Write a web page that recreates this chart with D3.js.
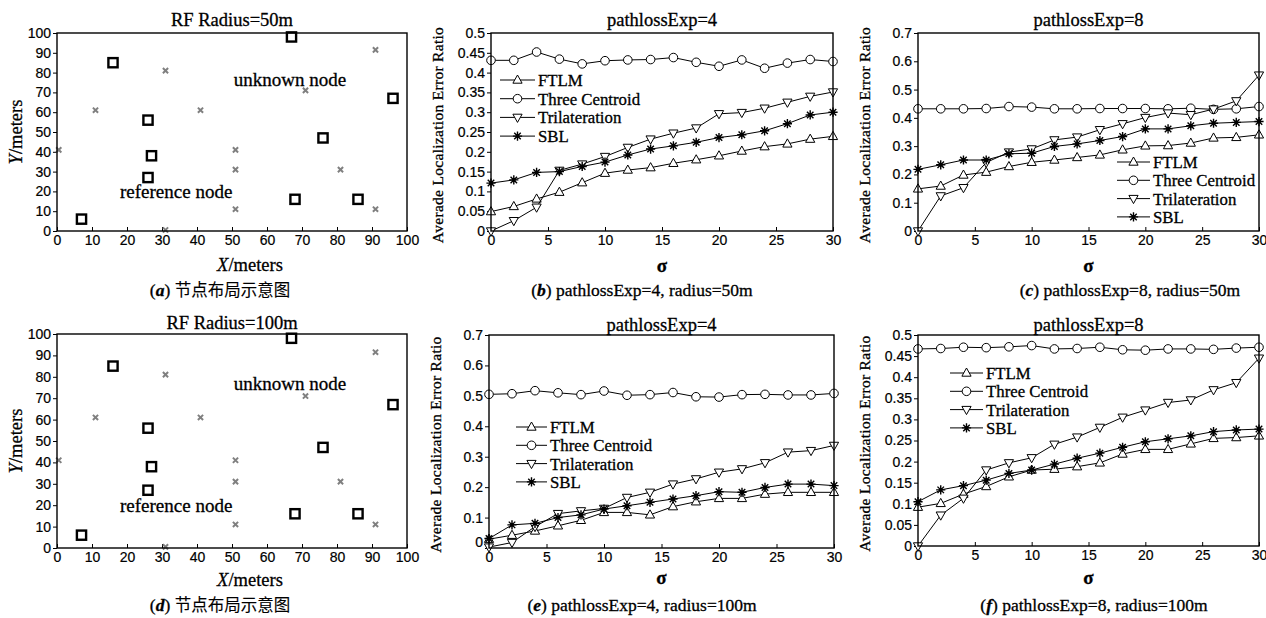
<!DOCTYPE html>
<html>
<head>
<meta charset="utf-8">
<script src="https://cdn.jsdelivr.net/npm/d3@7"></script>
<style>
  body { margin: 0; background: #fff; }
  svg text { fill: #000; stroke: #000; stroke-width: 0.3px; }
  .tick text { font-family: 'Liberation Sans', Arial, sans-serif; font-size: 14px; stroke-width: 0.2px; }
</style>
</head>
<body>
<svg id="chart" width="1266" height="618"></svg>
<script>
// ---- data ----
const sigma = [0, 2, 4, 6, 8, 10, 12, 14, 16, 18, 20, 22, 24, 26, 28, 30];
const seriesNames = ['FTLM', 'Three Centroid', 'Trilateration', 'SBL'];

// node layout (panels a and d)
const refX = [7, 16, 26, 27, 26, 67, 68, 76, 86, 96];
const refY = [6, 85, 56, 38, 27, 98, 16, 47, 16, 67];
const unkX = [0.5, 11, 31, 31, 41, 51, 51, 51, 71, 81, 91, 91];
const unkY = [41, 61, 81, 0.5, 61, 41, 31, 11, 71, 31, 91.5, 11];
const meterTicks = [0, 10, 20, 30, 40, 50, 60, 70, 80, 90, 100];

// (b) pathlossExp=4, radius=50m
const bFTLM = [0.049, 0.062, 0.081, 0.098, 0.122, 0.146, 0.154, 0.160, 0.171, 0.180, 0.190, 0.202, 0.213, 0.220, 0.232, 0.239];
const bTC   = [0.431, 0.431, 0.452, 0.434, 0.422, 0.430, 0.432, 0.433, 0.438, 0.426, 0.416, 0.432, 0.411, 0.424, 0.433, 0.428];
const bTri  = [0, 0.026, 0.060, 0.153, 0.169, 0.188, 0.211, 0.232, 0.247, 0.260, 0.296, 0.299, 0.310, 0.325, 0.340, 0.351];
const bSBL  = [0.121, 0.129, 0.148, 0.150, 0.163, 0.174, 0.192, 0.207, 0.215, 0.224, 0.236, 0.243, 0.253, 0.271, 0.293, 0.300];

// (c) pathlossExp=8, radius=50m
const cFTLM = [0.149, 0.159, 0.198, 0.208, 0.228, 0.243, 0.251, 0.260, 0.269, 0.287, 0.301, 0.302, 0.311, 0.329, 0.331, 0.340];
const cTC   = [0.432, 0.432, 0.432, 0.433, 0.440, 0.438, 0.432, 0.432, 0.433, 0.433, 0.433, 0.432, 0.434, 0.430, 0.432, 0.440];
const cTri  = [0, 0.124, 0.153, 0.242, 0.279, 0.290, 0.322, 0.332, 0.358, 0.379, 0.401, 0.417, 0.411, 0.431, 0.460, 0.551];
const cSBL  = [0.218, 0.234, 0.251, 0.251, 0.273, 0.275, 0.299, 0.308, 0.320, 0.334, 0.361, 0.361, 0.372, 0.381, 0.384, 0.387];

// (e) pathlossExp=4, radius=100m
const eFTLM = [0.029, 0.042, 0.056, 0.073, 0.091, 0.117, 0.117, 0.109, 0.136, 0.152, 0.163, 0.163, 0.177, 0.183, 0.183, 0.183];
const eTC   = [0.505, 0.507, 0.517, 0.510, 0.504, 0.516, 0.502, 0.504, 0.511, 0.497, 0.496, 0.504, 0.505, 0.503, 0.503, 0.508];
const eTri  = [0.003, 0.018, 0.070, 0.113, 0.122, 0.130, 0.166, 0.183, 0.210, 0.227, 0.249, 0.260, 0.280, 0.315, 0.320, 0.337];
const eSBL  = [0.031, 0.076, 0.081, 0.100, 0.109, 0.128, 0.139, 0.150, 0.161, 0.172, 0.185, 0.183, 0.199, 0.210, 0.210, 0.205];

// (f) pathlossExp=8, radius=100m
const fFTLM = [0.092, 0.101, 0.123, 0.141, 0.164, 0.180, 0.182, 0.188, 0.197, 0.218, 0.229, 0.229, 0.242, 0.255, 0.257, 0.261];
const fTC   = [0.467, 0.468, 0.471, 0.470, 0.472, 0.475, 0.467, 0.468, 0.471, 0.465, 0.464, 0.467, 0.467, 0.466, 0.469, 0.471];
const fTri  = [0, 0.073, 0.113, 0.180, 0.197, 0.209, 0.241, 0.258, 0.281, 0.305, 0.322, 0.340, 0.346, 0.370, 0.387, 0.445];
const fSBL  = [0.105, 0.133, 0.143, 0.156, 0.172, 0.180, 0.194, 0.208, 0.220, 0.234, 0.247, 0.254, 0.261, 0.271, 0.275, 0.277];

const sigmaTicks = [0, 5, 10, 15, 20, 25, 30];
const ticks05 = [0, 0.05, 0.1, 0.15, 0.2, 0.25, 0.3, 0.35, 0.4, 0.45, 0.5];
const ticks07 = [0, 0.1, 0.2, 0.3, 0.4, 0.5, 0.6, 0.7];

const svg = d3.select('#chart');
const SERIF = "'Liberation Serif', 'Times New Roman', serif";
const MARKERS = ['up', 'circle', 'down', 'star'];

function marker(g, type, x, y) {
  if (type === 'circle') {
    g.append('circle').attr('cx', x).attr('cy', y).attr('r', 4.3)
      .attr('fill', '#fff').attr('stroke', '#000').attr('stroke-width', 1);
  } else if (type === 'up') {
    g.append('path').attr('d', `M${x},${y - 5}L${x + 4.6},${y + 3.2}L${x - 4.6},${y + 3.2}Z`)
      .attr('fill', '#fff').attr('stroke', '#000').attr('stroke-width', 1);
  } else if (type === 'down') {
    g.append('path').attr('d', `M${x},${y + 5}L${x + 4.6},${y - 3.2}L${x - 4.6},${y - 3.2}Z`)
      .attr('fill', '#fff').attr('stroke', '#000').attr('stroke-width', 1);
  } else {
    let d = '';
    for (let a = 0; a < 4; a++) {
      const t = a * Math.PI / 4, r = 4.6;
      d += `M${x - r * Math.cos(t)},${y - r * Math.sin(t)}L${x + r * Math.cos(t)},${y + r * Math.sin(t)}`;
    }
    g.append('path').attr('d', d).attr('stroke', '#000').attr('stroke-width', 1.4);
    g.append('circle').attr('cx', x).attr('cy', y).attr('r', 1.8).attr('fill', '#000');
  }
}

function frame(g, box) {
  g.append('rect').attr('x', box.x0).attr('y', box.y0)
    .attr('width', box.x1 - box.x0).attr('height', box.y1 - box.y0)
    .attr('fill', 'none').attr('stroke', '#000').attr('stroke-width', 1.4);
}

function styleAxis(sel) {
  sel.select('.domain').remove();
  sel.selectAll('.tick line').attr('stroke', '#000').attr('stroke-width', 1);
}

function caption(x, y, letter, rest, cjk) {
  const t = svg.append('text').attr('x', x).attr('y', y).attr('text-anchor', 'middle')
    .attr('font-family', SERIF).attr('font-size', 17.5);
  t.append('tspan').text('(');
  t.append('tspan').attr('font-style', 'italic').attr('font-weight', 'bold').text(letter);
  t.append('tspan').text(') ');
  t.append('tspan').attr('font-family', cjk ? "'Noto Sans CJK SC', sans-serif" : SERIF)
    .attr('font-size', cjk ? 16.5 : 17.5).attr('stroke-width', cjk ? 0.1 : 0.3).text(rest);
}

// ---- scatter panels (a, d) ----
function nodePanel(box, title, titleY, xLabY, yLabX) {
  const g = svg.append('g');
  const x = d3.scaleLinear().domain([0, 100]).range([box.x0, box.x1]);
  const y = d3.scaleLinear().domain([0, 100]).range([box.y1, box.y0]);

  g.append('g').attr('transform', `translate(0,${box.y1})`)
    .call(d3.axisBottom(x).tickValues(meterTicks).tickSizeInner(-4).tickSizeOuter(0).tickPadding(4))
    .call(styleAxis);
  g.append('g').attr('transform', `translate(${box.x0},0)`)
    .call(d3.axisLeft(y).tickValues(meterTicks).tickSizeInner(4).tickSizeOuter(0).tickPadding(2))
    .call(styleAxis);

  unkX.forEach((ux, i) => {
    const cx = x(ux), cy = y(unkY[i]), s = 2.6;
    g.append('path').attr('d', `M${cx - s},${cy - s}L${cx + s},${cy + s}M${cx - s},${cy + s}L${cx + s},${cy - s}`)
      .attr('stroke', '#808080').attr('stroke-width', 2);
  });
  refX.forEach((rx, i) => {
    g.append('rect').attr('x', x(rx) - 4.6).attr('y', y(refY[i]) - 4.6)
      .attr('width', 9.2).attr('height', 9.2)
      .attr('fill', 'none').attr('stroke', '#000').attr('stroke-width', 2.4);
  });
  frame(g, box);

  g.append('text').attr('x', x(50.5)).attr('y', y(76) + 5).attr('font-family', SERIF)
    .attr('font-size', 19).text('unknown node');
  g.append('text').attr('x', x(18)).attr('y', y(19) + 5).attr('font-family', SERIF)
    .attr('font-size', 19).text('reference node');

  g.append('text').attr('x', (box.x0 + box.x1) / 2).attr('y', titleY).attr('text-anchor', 'middle')
    .attr('font-family', SERIF).attr('font-size', 18.5).text(title);
  const xl = g.append('text').attr('x', (box.x0 + box.x1) / 2 + 18).attr('y', xLabY)
    .attr('text-anchor', 'middle').attr('font-family', SERIF).attr('font-size', 18.5);
  xl.append('tspan').attr('font-style', 'italic').text('X');
  xl.append('tspan').text('/meters');
  const cy = (box.y0 + box.y1) / 2;
  const yl = g.append('text').attr('transform', `translate(${yLabX},${cy}) rotate(-90)`)
    .attr('text-anchor', 'middle').attr('font-family', SERIF).attr('font-size', 18.5);
  yl.append('tspan').attr('font-style', 'italic').text('Y');
  yl.append('tspan').text('/meters');
}

// ---- error-ratio panels (b, c, e, f) ----
function linePanel(box, title, titleY, sigY, yMax, yTicks, series, leg, zeroShift) {
  const g = svg.append('g');
  const x = d3.scaleLinear().domain([0, 30]).range([box.x0, box.x1]);
  const y = d3.scaleLinear().domain([0, yMax]).range([box.y1, box.y0]);

  g.append('g').attr('transform', `translate(0,${box.y1})`)
    .call(d3.axisBottom(x).tickValues(sigmaTicks).tickSizeInner(-4).tickSizeOuter(0).tickPadding(4))
    .call(styleAxis);
  const ya = g.append('g').attr('transform', `translate(${box.x0},0)`)
    .call(d3.axisLeft(y).tickValues(yTicks).tickFormat(d => String(+d.toFixed(2)))
      .tickSizeInner(4).tickSizeOuter(0).tickPadding(2))
    .call(styleAxis);
  if (zeroShift) ya.selectAll('.tick').filter(d => d === 0).select('text').attr('y', -zeroShift);

  const line = d3.line().x((d, i) => x(sigma[i])).y(d => y(d));
  series.forEach((vals, si) => {
    const sg = g.append('g');
    sg.append('path').attr('d', line(vals)).attr('fill', 'none')
      .attr('stroke', '#000').attr('stroke-width', 1);
    vals.forEach((v, i) => marker(sg, MARKERS[si], x(sigma[i]), y(v)));
  });
  frame(g, box);

  seriesNames.forEach((name, i) => {
    const ly = leg.y + i * leg.dy;
    g.append('line').attr('x1', leg.x).attr('x2', leg.x + leg.w).attr('y1', ly).attr('y2', ly)
      .attr('stroke', '#000').attr('stroke-width', 1);
    marker(g, MARKERS[i], leg.x + leg.w / 2, ly);
    g.append('text').attr('x', leg.x + leg.w + 3).attr('y', ly + 6)
      .attr('font-family', SERIF).attr('font-size', 16.8).text(name);
  });

  g.append('text').attr('x', (box.x0 + box.x1) / 2).attr('y', titleY).attr('text-anchor', 'middle')
    .attr('font-family', SERIF).attr('font-size', 18.5).text(title);
  g.append('text').attr('x', (box.x0 + box.x1) / 2).attr('y', sigY).attr('text-anchor', 'middle')
    .attr('font-family', SERIF).attr('font-size', 19).attr('font-weight', 'bold').text('σ');
  g.append('text').attr('transform', `translate(${box.x0 - 48},${(box.y0 + box.y1) / 2 + 3}) rotate(-90)`)
    .attr('text-anchor', 'middle').attr('font-family', SERIF).attr('font-size', 15.5)
    .attr('letter-spacing', 0.3).text('Averade Localization Error Ratio');
}

nodePanel({ x0: 57, x1: 407, y0: 33, y1: 231 }, 'RF Radius=50m', 26, 271, 22);
nodePanel({ x0: 57, x1: 407, y0: 334, y1: 548 }, 'RF Radius=100m', 329, 586, 22);

linePanel({ x0: 491, x1: 833, y0: 33, y1: 231 }, 'pathlossExp=4', 26, 272, 0.5, ticks05,
  [bFTLM, bTC, bTri, bSBL], { x: 500, w: 35, y: 80, dy: 18.7 });
linePanel({ x0: 918, x1: 1259, y0: 33, y1: 231 }, 'pathlossExp=8', 26, 272, 0.7, ticks07,
  [cFTLM, cTC, cTri, cSBL], { x: 1117, w: 33, y: 162, dy: 18.3 });
linePanel({ x0: 489, x1: 834, y0: 335, y1: 548 }, 'pathlossExp=4', 331, 584, 0.7, ticks07,
  [eFTLM, eTC, eTri, eSBL], { x: 516, w: 31, y: 427, dy: 18.3 }, 6);
linePanel({ x0: 918, x1: 1259, y0: 335, y1: 546 }, 'pathlossExp=8', 331, 584, 0.5, ticks05,
  [fFTLM, fTC, fTri, fSBL], { x: 950, w: 33, y: 373, dy: 18.3 });

caption(220, 296, 'a', '节点布局示意图', true);
caption(642, 296, 'b', 'pathlossExp=4, radius=50m', false);
caption(1130, 296, 'c', 'pathlossExp=8, radius=50m', false);
caption(220, 611, 'd', '节点布局示意图', true);
caption(642, 611, 'e', 'pathlossExp=4, radius=100m', false);
caption(1094, 611, 'f', 'pathlossExp=8, radius=100m', false);
</script>
</body>
</html>
